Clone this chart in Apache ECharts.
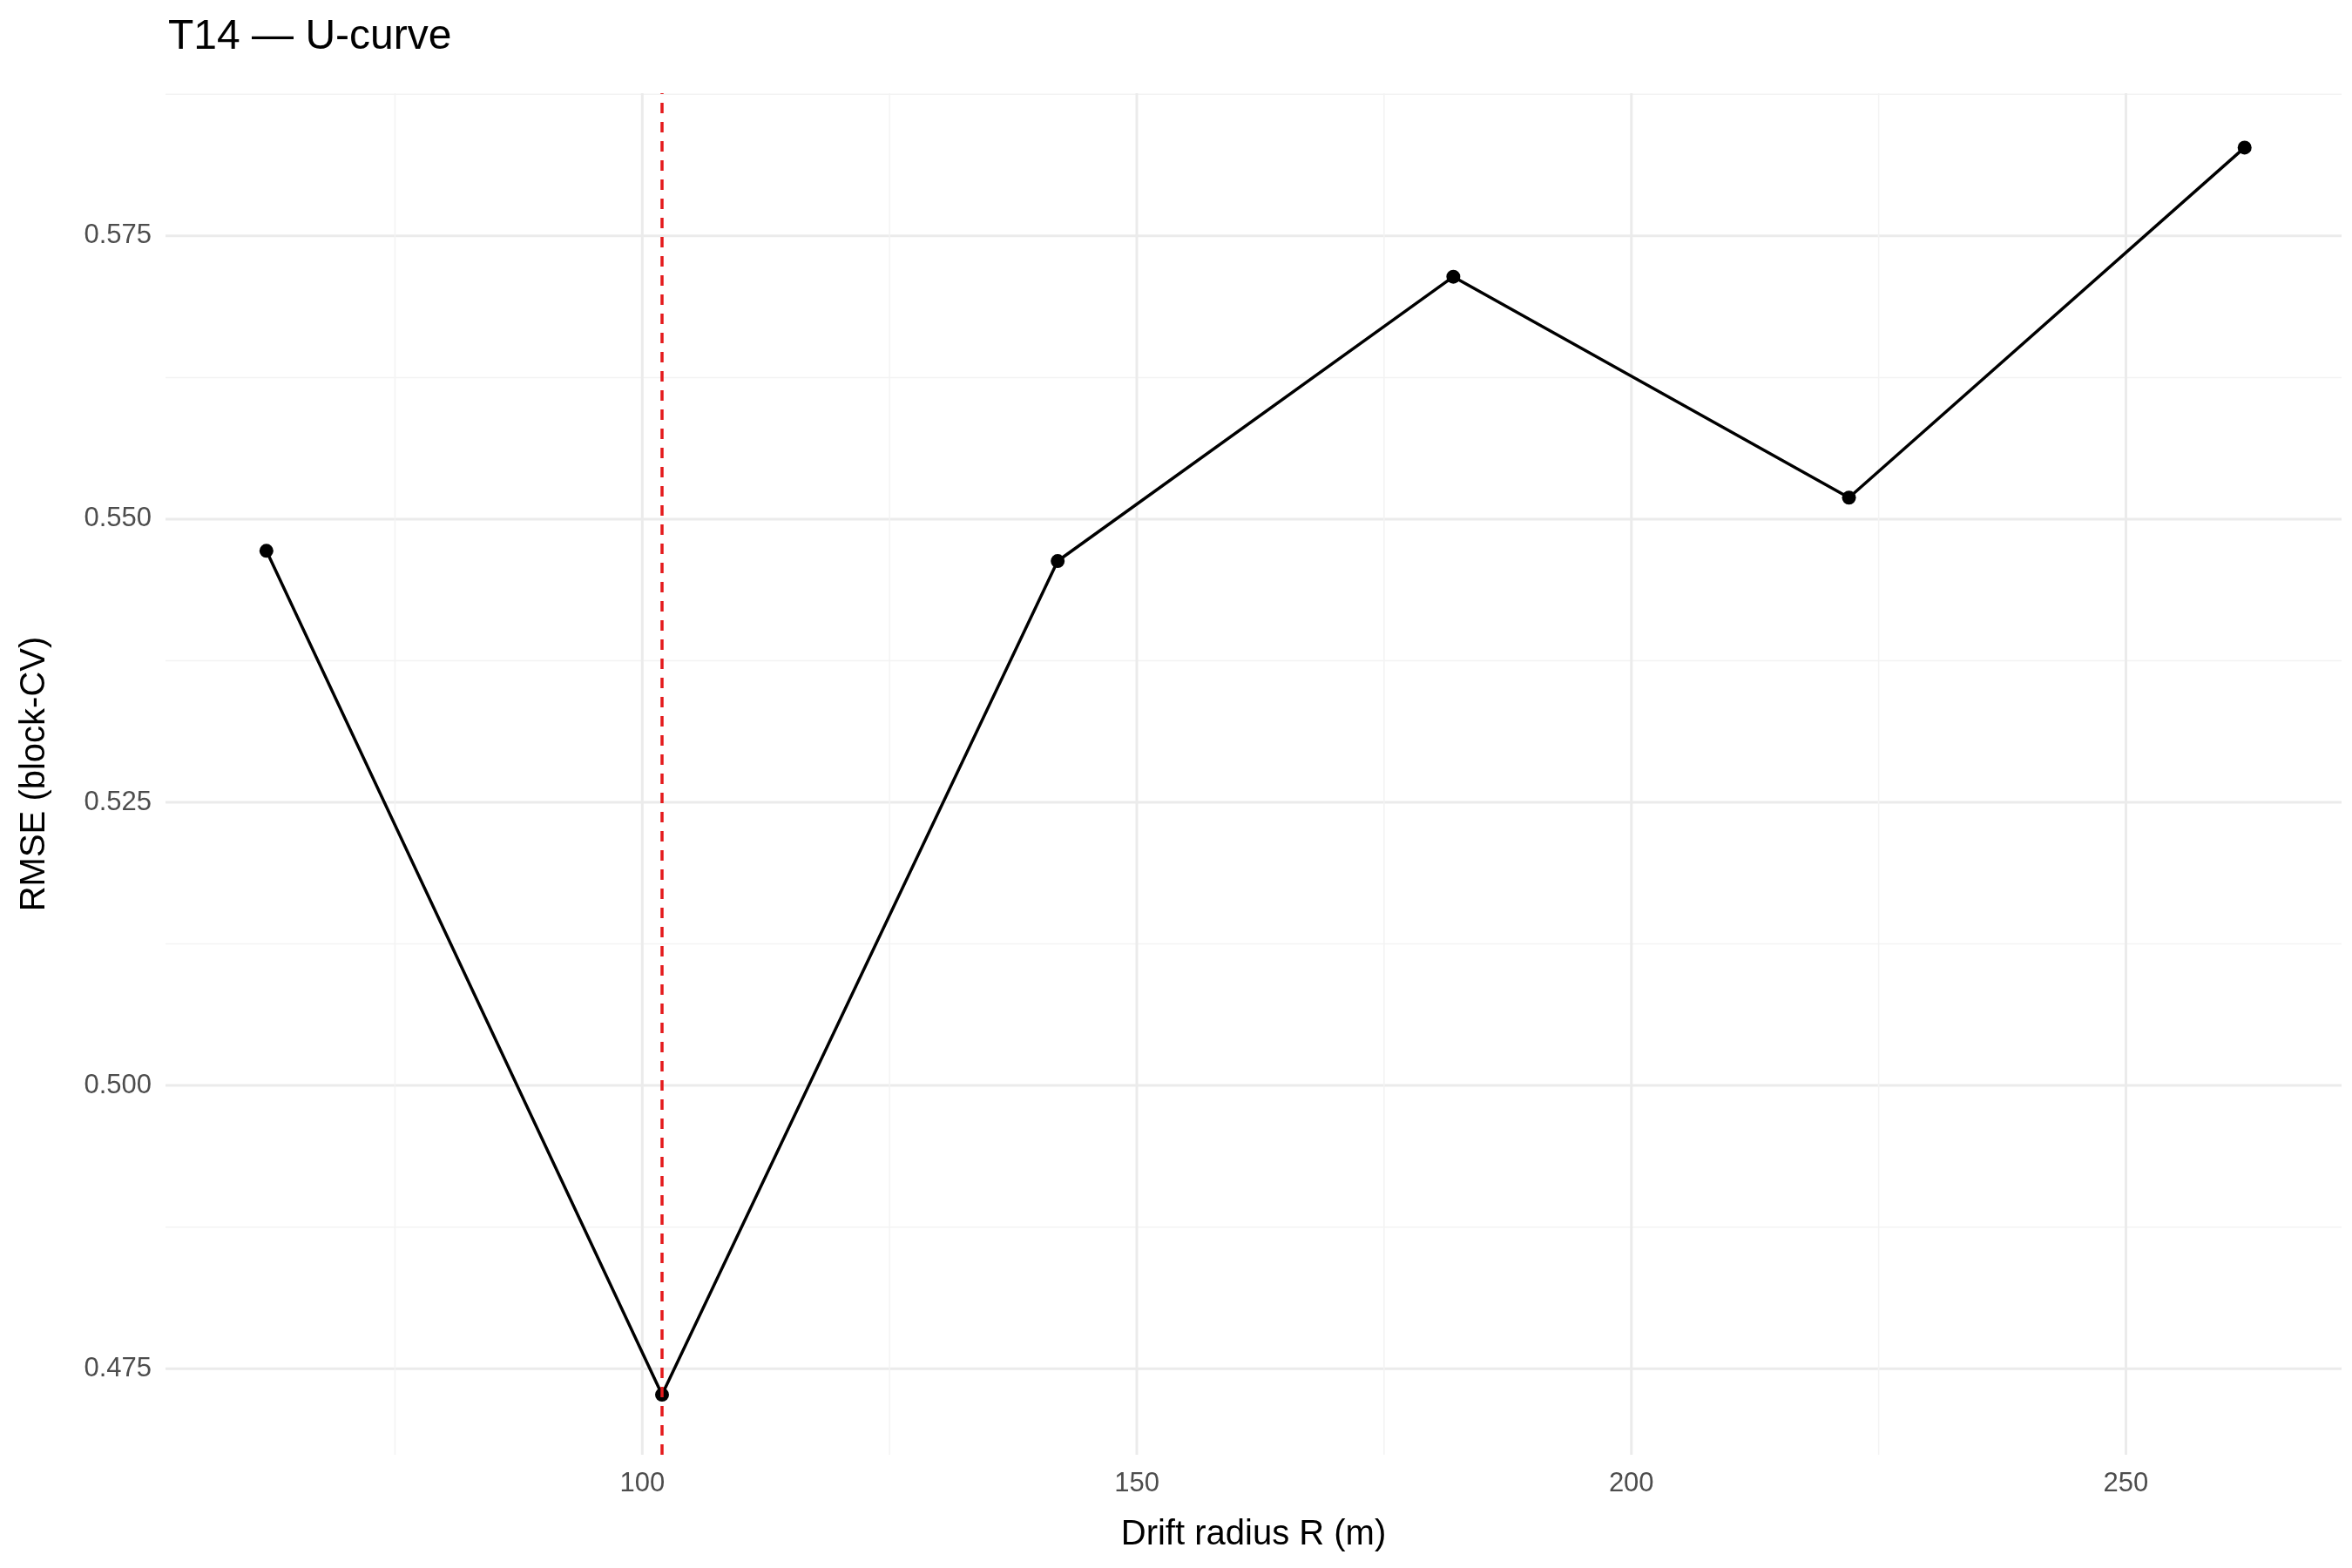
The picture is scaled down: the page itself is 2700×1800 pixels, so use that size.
<!DOCTYPE html>
<html>
<head>
<meta charset="utf-8" />
<title>T14 U-curve</title>
<script src="https://cdn.jsdelivr.net/npm/echarts@6/dist/echarts.min.js"></script>
<style>html,body{margin:0;background:#fff}#main{width:2700px;height:1800px}</style>
</head>
<body>
<div id="main"></div>
<script>
var radius = [62, 102, 142, 182, 222, 262];
var rmse = [0.5472, 0.4727, 0.5463, 0.5714, 0.5519, 0.5828];
var bestR = 102;
var xTicks = [100, 150, 200, 250];
var xMinor = [75, 125, 175, 225];
var yTicks = [0.475, 0.5, 0.525, 0.55, 0.575];
var yMinor = [0.4875, 0.5125, 0.5375, 0.5625, 0.5875];
var xMin = 51.8, xMax = 271.8, yMin = 0.4674, yMax = 0.5876;

// grid lines as line series so they go through the axis scales
var gridSeries = [];
function hLine(v, major) {
  gridSeries.push({ type: 'line', silent: true, symbol: 'none', z: 0,
    data: [[xMin, v], [xMax, v]],
    lineStyle: { color: major ? '#ebebeb' : '#f3f3f3', width: major ? 3 : 1.5 } });
}
function vLine(v, major) {
  gridSeries.push({ type: 'line', silent: true, symbol: 'none', z: 0,
    data: [[v, yMin], [v, yMax]],
    lineStyle: { color: major ? '#ebebeb' : '#f3f3f3', width: major ? 3 : 1.5 } });
}
yTicks.forEach(function (v) { hLine(v, true); });
yMinor.forEach(function (v) { hLine(v, false); });
xTicks.forEach(function (v) { vLine(v, true); });
xMinor.forEach(function (v) { vLine(v, false); });

var chart = echarts.init(document.getElementById('main'));
chart.setOption({
  animation: false,
  backgroundColor: '#fff',
  textStyle: { fontFamily: 'Liberation Sans, Arial, sans-serif' },
  title: { text: 'T14 — U-curve', left: 188, top: 14,
    textStyle: { fontSize: 48, fontWeight: 'normal', color: '#000' } },
  grid: { left: 190, right: 12, top: 107, bottom: 130 },
  xAxis: {
    type: 'value', min: xMin, max: xMax,
    name: 'Drift radius R (m)', nameLocation: 'middle', nameGap: 72,
    nameTextStyle: { fontSize: 40, color: '#000' },
    axisLine: { show: false }, axisTick: { show: false }, splitLine: { show: false },
    axisLabel: { customValues: xTicks, fontSize: 31, color: '#4d4d4d', margin: 18 }
  },
  yAxis: {
    type: 'value', min: yMin, max: yMax,
    name: 'RMSE (block-CV)', nameLocation: 'middle', nameGap: 130,
    nameTextStyle: { fontSize: 40, color: '#000' },
    axisLine: { show: false }, axisTick: { show: false }, splitLine: { show: false },
    axisLabel: { customValues: yTicks, fontSize: 31, color: '#4d4d4d', margin: 16,
      formatter: function (v) { return v.toFixed(3); } }
  },
  series: gridSeries.concat([
    {
      type: 'line', data: radius.map(function (r, i) { return [r, rmse[i]]; }),
      lineStyle: { color: '#000', width: 3.5 },
      itemStyle: { color: '#000' }, symbol: 'circle', symbolSize: 16, z: 3
    },
    {
      type: 'line', symbol: 'none', silent: true, z: 4,
      data: [[bestR, yMin], [bestR, yMax]],
      lineStyle: { color: '#e41a1c', type: [12, 10], width: 3.5 }
    }
  ])
});
</script>
</body>
</html>
